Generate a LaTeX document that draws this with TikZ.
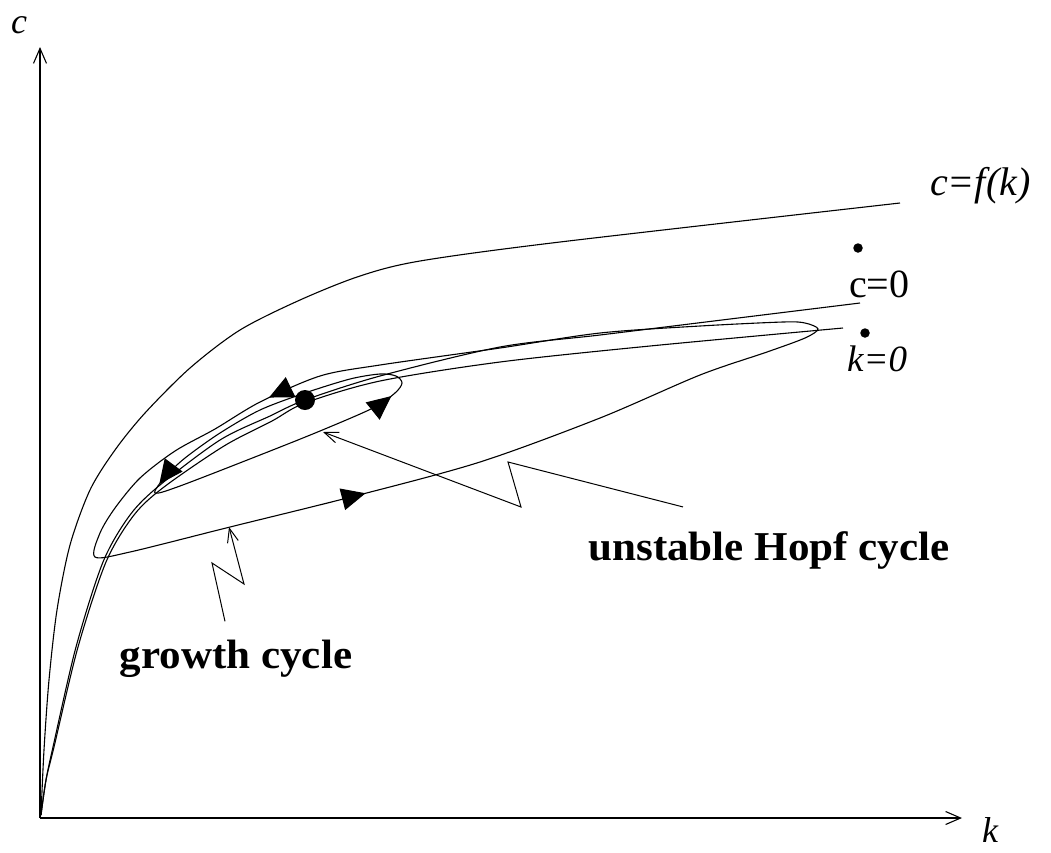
\documentclass[tikz,border=0pt]{standalone}
\usepackage{fontspec}
\setmainfont{Liberation Serif}
\newfontfamily\wideserif[FakeStretch=1.05]{Liberation Serif}
\usepackage{xcolor}
\definecolor{cInk}{HTML}{000000}
\usepackage{tikz}
\usetikzlibrary{arrows.meta,decorations.markings}
\tikzset{
  curve/.style={draw=cInk,line width=1.1pt},
  axis-line/.style={draw=cInk,line width=1.1pt,-{Straight Barb[length=15pt,width=13pt]}},
  pointer/.style={draw=cInk,line width=1pt,-{Straight Barb[length=14pt,width=11pt]}},
  label-it/.style={font=\fontsize{40}{46}\selectfont\itshape,inner sep=0pt},
  label-up/.style={font=\fontsize{40}{46}\selectfont,inner sep=0pt},
  label-bold/.style={font=\fontsize{41}{48}\selectfont\wideserif\bfseries,inner sep=0pt},
  dot-small/.style={circle,fill=cInk,inner sep=0pt,minimum size=9.5pt},
  equilibrium/.style={circle,fill=cInk,inner sep=0pt,minimum size=20pt},
  flow/.style={postaction={decorate,decoration={markings,
    mark=at position #1 with {\arrow{Triangle[length=24pt,width=22pt]}}}}},
}

\begin{document}
\begin{tikzpicture}[x=1pt,y=-1pt]
  \useasboundingbox (0,0) rectangle (1051,852);
  % axes
  \coordinate (o) at (40,818);
  \coordinate (c-end) at (40,47);
  \coordinate (k-end) at (962,818);
  \draw[axis-line] (o) -- (c-end);
  \draw[axis-line] (o) -- (k-end);
  \node[label-it,font=\fontsize{36}{42}\selectfont\itshape,anchor=base] (c-lab) at (19,33) {c};
  \node[label-it,font=\fontsize{36}{42}\selectfont\itshape,anchor=base] (k-lab) at (990,842) {k};

  % c = f(k)
  \draw[curve] plot[smooth] coordinates {(41,815) (44,750) (49,680) (57,610)
    (70,545) (90,490) (115,450) (145,413) (190,368) (240,330) (300,300)
    (360,276) (420,261) (560,242) (900,203)};
  \node[label-it,anchor=base west] (f-lab) at (930,195) {c=f(k)};

  % isoclines
  \draw[curve] plot[smooth] coordinates {(41,815) (46,780) (53,747) (76,647)
    (103,562) (130,515) (160,485) (220,440) (270,416) (305,400) (380,376)
    (500,347) (600,335) (730,319) (860,303)};
  \draw[curve] plot[smooth] coordinates {(41,815) (46,780) (54,747) (78,647)
    (106,562) (134,515) (164,487) (224,446) (272,421) (305,403) (380,381)
    (500,362) (650,346) (843,328)};
  \node[dot-small] (c-dot) at (858,248) {};
  \node[label-up,anchor=base west] (cdot-lab) at (849,297) {c=0};
  \node[dot-small] (k-dot) at (865,333) {};
  \node[label-it,font=\fontsize{37}{44}\selectfont\itshape,anchor=base west] (kdot-lab) at (847,371) {k=0};

  % growth cycle
  \draw[curve,flow=0.155,flow=0.82] plot[smooth cycle] coordinates {(95,557)
    (130,552) (230,527) (355,496) (480,462) (600,418) (700,375) (767,352)
    (805,338) (818,329) (805,323) (783,322) (700,326) (600,333) (500,348)
    (380,365) (320,376) (260,402) (215,429) (175,451) (140,478) (115,508)
    (100,533)};
  % unstable Hopf cycle
  \draw[curve,flow=0.41,flow=0.935] plot[smooth cycle] coordinates {(155,493)
    (180,486) (260,455) (320,431) (373,408) (395,393) (402,383) (396,376)
    (380,374) (350,379) (305,393) (260,410) (220,433) (185,458) (165,477)};
  \node[equilibrium] (eq) at (305,400) {};

  % labels
  \node[label-bold,anchor=base] (hopf) at (769,560) {unstable Hopf cycle};
  \node[label-bold,anchor=base] (growth) at (236,668) {growth cycle};
  \coordinate (hopf-a) at (508,462);
  \coordinate (hopf-b) at (521,507);
  \coordinate (hopf-tip) at (323,432);
  \coordinate (growth-a) at (212,563);
  \coordinate (growth-b) at (244,584);
  \coordinate (growth-tip) at (229,527);
  \draw[pointer] ([shift={(-86,-24)}]hopf.north) -- (hopf-a) -- (hopf-b) -- (hopf-tip);
  \draw[pointer] ([shift={(-11,-18)}]growth.north) -- (growth-a) -- (growth-b) -- (growth-tip);
\end{tikzpicture}
\end{document}
